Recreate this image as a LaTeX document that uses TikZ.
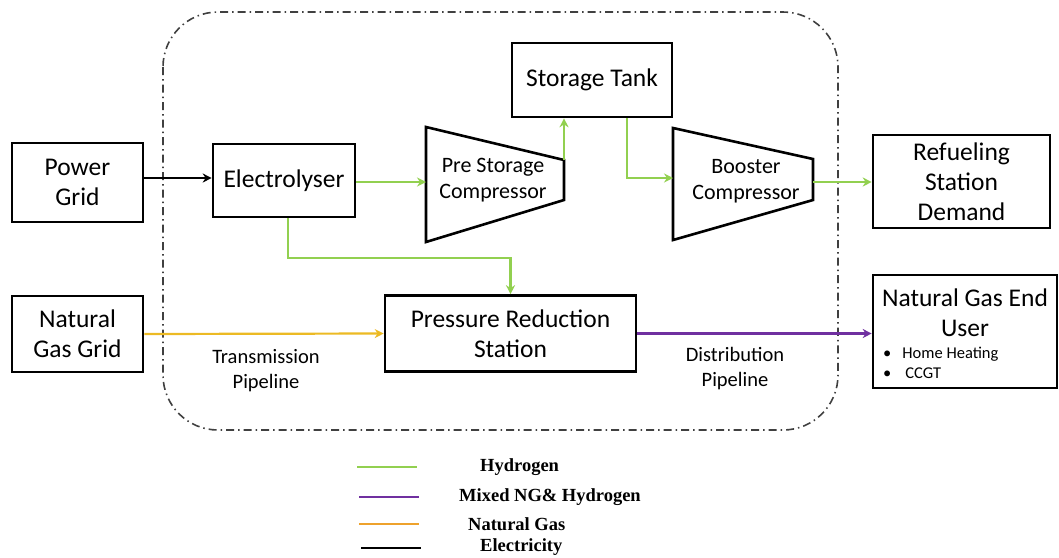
\documentclass[tikz,border=0pt]{standalone}
\usepackage{fontspec}
\setmainfont{Carlito}
\newfontfamily\legendfont{Liberation Serif}
\usepackage{tikz}
\usetikzlibrary{calc}
\usetikzlibrary{arrows.meta}
\usetikzlibrary{positioning}
\definecolor{hydrogen}{RGB}{146,208,80}
\definecolor{mixedgas}{RGB}{112,48,160}
\definecolor{natgas}{RGB}{236,186,36}
\definecolor{natgaskey}{RGB}{238,162,44}
\tikzstyle{unitnode}=[black, draw=black, line width=2.6pt, shape=rectangle, fill=white, align=center, inner sep=0pt, font=\fontsize{25.5}{30}\selectfont]
\tikzstyle{unittext}=[black, shape=rectangle, inner sep=0pt, align=center, font=\fontsize{25.5}{30}\selectfont]
\tikzstyle{comptext}=[black, shape=rectangle, inner sep=0pt, align=center, font=\fontsize{22}{25.5}\selectfont]
\tikzstyle{pipelabel}=[black, shape=rectangle, inner sep=0pt, align=center, font=\fontsize{20.5}{25}\selectfont]
\tikzstyle{keylabel}=[black, shape=rectangle, inner sep=0pt, anchor=west, font=\legendfont\bfseries\fontsize{18.5}{22}\selectfont]
\tikzstyle{flow}=[-{Stealth[length=9pt, width=9pt]}, line width=2.2pt]
\tikzstyle{keyline}=[line width=2.4pt]
\tikzstyle{plantframe}=[line width=1.6pt, color=black!75, rounded corners=55pt, dash pattern=on 8pt off 4pt on 1.5pt off 4pt]

\begin{document}
\begin{tikzpicture}[x=1pt, y=-1pt]
\useasboundingbox (0,0) rectangle (1059,557);

\draw[plantframe] (163,12) rectangle (838,430);

\node [unitnode, minimum width=131pt, minimum height=79pt] (power) at (77.5,182.5) {Power\\Grid};
\node [unitnode, minimum width=142pt, minimum height=73pt] (electro) at (284,180.5) {Electrolyser};
\node [unitnode, minimum width=160pt, minimum height=74pt] (storage) at (592,80) {Storage Tank};
\node [unitnode, minimum width=177pt, minimum height=93pt] (refuel) at (961.5,181.5) {Refueling\\Station\\Demand};
\node [unitnode, minimum width=131pt, minimum height=76pt] (nggrid) at (77.5,334) {Natural\\Gas Grid};
\node [unitnode, minimum width=251pt, minimum height=76pt] (prs) at (510.5,333.5) {Pressure Reduction\\Station};
\node [unitnode, minimum width=184pt, minimum height=113pt] (enduser) at (965,331.5) {};
\node [unittext] (endtitle) at (965,313) {Natural Gas End\\User};
\node [black, inner sep=0pt, anchor=west, align=left, font=\fontsize{16.5}{20}\selectfont] (enduses) at (883,363) {\textbullet\hspace{11pt}Home Heating\\\textbullet\hspace{14pt}CCGT};

% compressors
\coordinate (preNW) at (426,127);
\coordinate (preSW) at (426,242);
\coordinate (preNE) at (564,160);
\coordinate (preSE) at (564,200);
\coordinate (preIn) at (426,182);
\draw[line width=2.6pt, line join=miter] (preNW) -- (preNE) -- (preSE) -- (preSW) -- cycle;
\node [comptext] (pretext) at (493,180) {Pre Storage\\Compressor};

\coordinate (boostNW) at (673,128);
\coordinate (boostSW) at (673,240);
\coordinate (boostNE) at (813,159);
\coordinate (boostSE) at (813,200);
\coordinate (boostIn) at (673,178);
\coordinate (boostOut) at (813,182);
\draw[line width=2.6pt, line join=miter] (boostNW) -- (boostNE) -- (boostSE) -- (boostSW) -- cycle;
\node [comptext] (boosttext) at (746,181) {Booster\\Compressor};

\node [pipelabel] (transmission) at (266,370.5) {Transmission\\Pipeline};
\node [pipelabel] (distribution) at (735,369) {Distribution\\Pipeline};

% flows
\draw[flow, color=black] (power.east |- 0,178) -- (electro.west |- 0,178);
\draw[flow, color=hydrogen] (electro.east |- preIn) -- (preIn);
\draw[flow, color=hydrogen] (preNE) -- (preNE |- storage.south);
\draw[flow, color=hydrogen] ([xshift=35pt]storage.south) |- (boostIn);
\draw[flow, color=hydrogen] (boostOut) -- (refuel.west |- boostOut);
\draw[flow, color=hydrogen] ([xshift=4pt]electro.south) -- ++(0,40) -| (prs.north);
\draw[flow, color=natgas] (nggrid.east) -- (prs.west);
\draw[flow, color=mixedgas] (prs.east) -- (prs.east -| enduser.west);

% legend
\coordinate (keyA) at (357,467);
\coordinate (keyB) at (359,497);
\coordinate (keyC) at (359,524);
\coordinate (keyD) at (361,548);
\draw[keyline, color=hydrogen] (keyA) -- ++(60,0);
\draw[keyline, color=mixedgas] (keyB) -- ++(60,0);
\draw[keyline, color=natgaskey] (keyC) -- ++(60,0);
\draw[keyline, color=black] (keyD) -- ++(60,0);
\node [keylabel] (keyhydrogen) at (480,467) {Hydrogen};
\node [keylabel] (keymixed) at (459,497) {Mixed NG\& Hydrogen};
\node [keylabel] (keynatgas) at (468,524) {Natural Gas};
\node [keylabel] (keyelec) at (480,547) {Electricity};
\end{tikzpicture}
\end{document}
